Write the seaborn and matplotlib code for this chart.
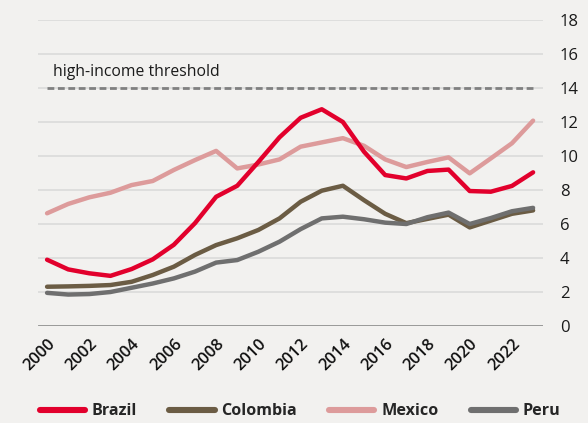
import matplotlib
matplotlib.use("Agg")
import matplotlib.pyplot as plt
import seaborn as sns
import pandas as pd
from matplotlib.lines import Line2D

years = list(range(2000, 2024))
brazil = [3.9, 3.33, 3.1, 2.95, 3.35, 3.92, 4.78, 6.05, 7.6, 8.25, 9.65, 11.1,
          12.25, 12.75, 12.0, 10.25, 8.88, 8.68, 9.12, 9.2, 7.94, 7.9, 8.24, 9.04]
colombia = [2.31, 2.33, 2.36, 2.41, 2.6, 3.0, 3.49, 4.18, 4.76, 5.16, 5.65, 6.33,
            7.31, 7.96, 8.25, 7.4, 6.6, 6.05, 6.3, 6.55, 5.8, 6.2, 6.6, 6.8]
mexico = [6.63, 7.18, 7.57, 7.84, 8.29, 8.53, 9.18, 9.76, 10.3, 9.27, 9.5, 9.8,
          10.55, 10.8, 11.05, 10.6, 9.8, 9.35, 9.65, 9.92, 8.98, 9.86, 10.75, 12.08]
peru = [1.95, 1.85, 1.88, 2.0, 2.25, 2.5, 2.8, 3.2, 3.73, 3.88, 4.37, 4.96,
        5.7, 6.33, 6.43, 6.28, 6.08, 6.0, 6.4, 6.67, 6.0, 6.35, 6.75, 6.95]
series_names = ["Brazil", "Colombia", "Mexico", "Peru"]
threshold = 14
threshold_label = "high-income threshold"
xtick_years = list(range(2000, 2023, 2))
yticks = list(range(0, 19, 2))

colors = {"Brazil": "#e2002c", "Colombia": "#6b5c44", "Mexico": "#dd9b9b", "Peru": "#6f6f6f"}
bg = "#f2f1ef"

df = pd.DataFrame({
    "year": years * 4,
    "value": brazil + colombia + mexico + peru,
    "country": sum([[n] * len(years) for n in series_names], []),
})

sns.set_theme(style="white")
plt.rcParams["font.family"] = ["Open Sans", "DejaVu Sans"]

fig = plt.figure(figsize=(5.88, 4.23), dpi=100, facecolor=bg)
ax = fig.add_axes([0.0646, 0.2293, 0.8589, 0.7234])
ax.set_facecolor(bg)

for y in yticks[1:]:
    ax.axhline(y, color="#dcdcdc", lw=1.3, zorder=0)
ax.axhline(0, color="#7f7f7f", lw=1.8, zorder=1)

ax.plot([2000, 2023], [threshold, threshold], color="#808080", lw=2.0,
        ls=(0, (2.45, 1.3)), zorder=2)
ax.text(2000.28, threshold + 0.5, threshold_label, fontsize=11.3, color="#1a1a1a",
        ha="left", va="bottom")

order = ["Mexico", "Brazil", "Colombia", "Peru"]
sns.lineplot(data=df, x="year", y="value", hue="country", hue_order=order,
             palette=colors, lw=3.2, ax=ax, legend=False, zorder=3)

ax.set_xlim(1999.57, 2023.47)
ax.set_ylim(0, 18)
ax.set_xticks(xtick_years)
ax.set_xticklabels([str(y) for y in xtick_years], rotation=45, ha="right",
                   rotation_mode="anchor", fontsize=11.8, fontweight="semibold")
ax.set_yticks(yticks)
ax.yaxis.tick_right()
ax.tick_params(axis="y", labelsize=12, length=0, pad=12, labelcolor="#1a1a1a")
ax.tick_params(axis="x", length=0, pad=7, labelcolor="#111111")
ax.set_xlabel("")
ax.set_ylabel("")
for s in ax.spines.values():
    s.set_visible(False)

handles = [Line2D([0], [0], color=colors[n], lw=4.4, solid_capstyle="round") for n in series_names]
fig.legend(handles, series_names, loc="center left", bbox_to_anchor=(0.068, 0.028),
           ncol=4, frameon=False, borderpad=0, borderaxespad=0,
           handlelength=2.8, handletextpad=0.42, columnspacing=2.0,
           prop={"weight": "bold", "size": 11.6})

fig.savefig("out.png", dpi=100, facecolor=bg)
